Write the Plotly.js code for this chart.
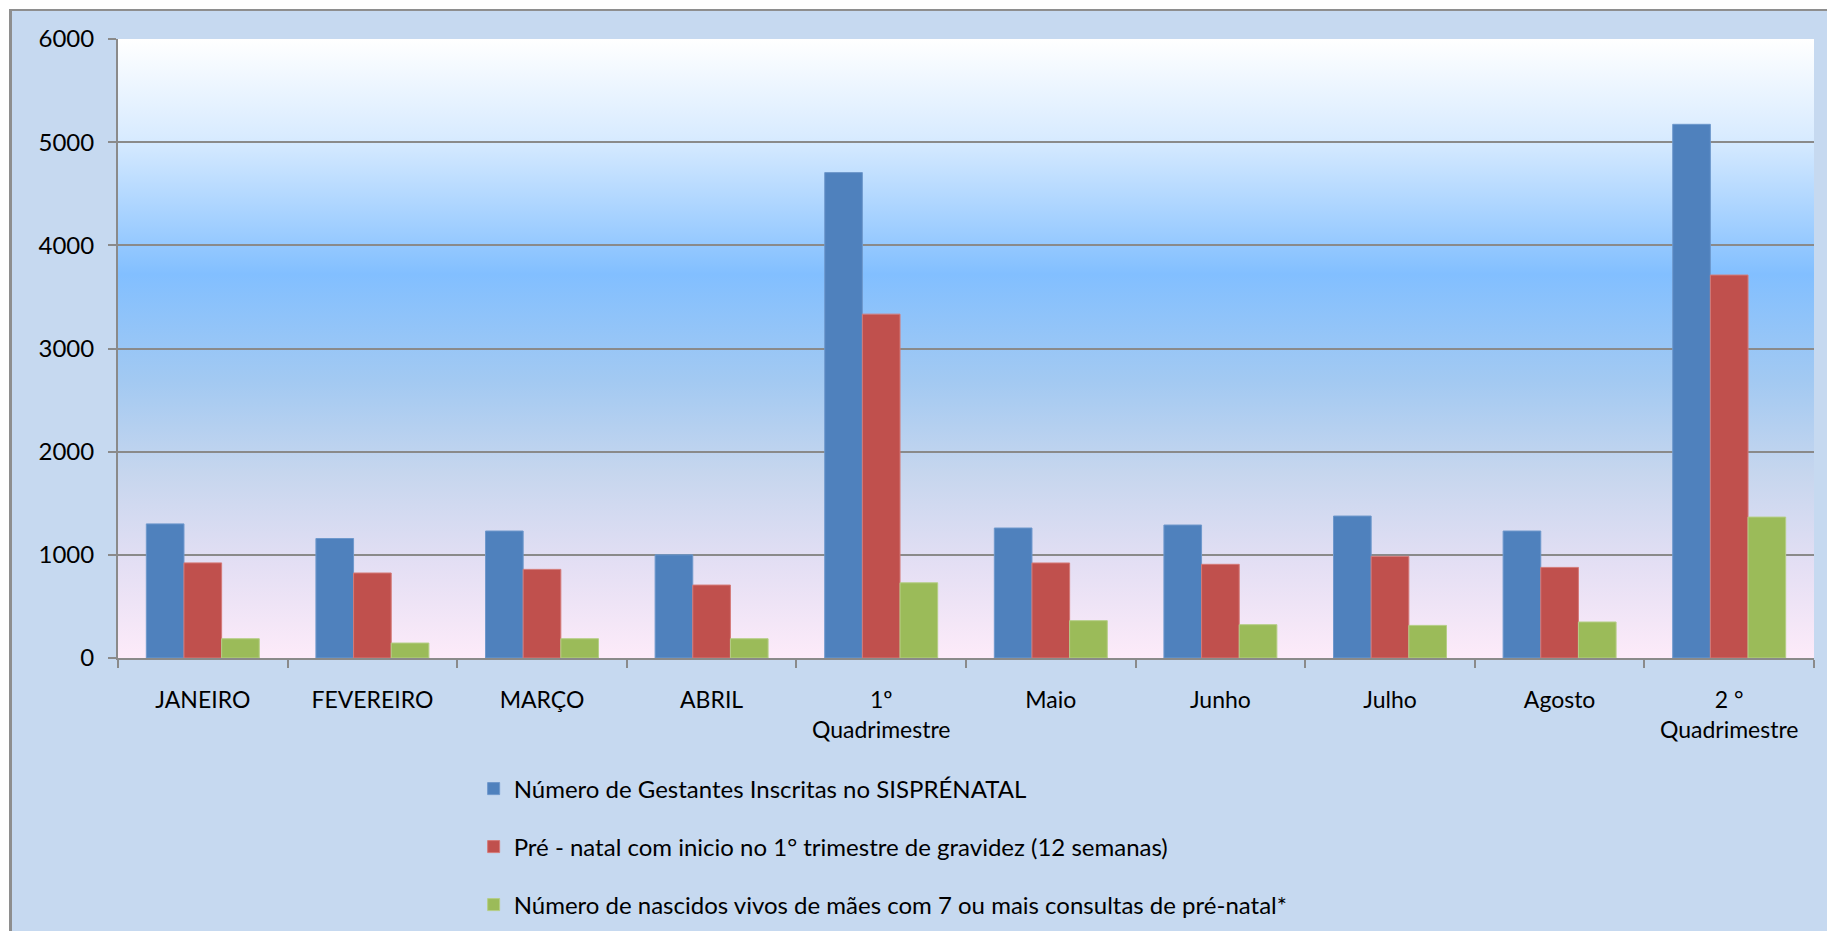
<!DOCTYPE html>
<html>
<head>
<meta charset="utf-8">
<script src="https://cdn.plot.ly/plotly-3.0.1.min.js"></script>
<style>
  html, body { margin: 0; padding: 0; background: #ffffff; width: 1827px; height: 931px; overflow: hidden; }
  #wrap { position: absolute; left: 9px; top: 9px; width: 1818px; height: 922px;
          border-left: 3px solid #8E8E8E; border-top: 2px solid #8E8E8E; background: #C6D9F0; }
  #chart { width: 1815px; height: 920px; }
</style>
</head>
<body>
<div id="wrap"><div id="chart"></div></div>
<script>
// ---- data ----
const categories = ['JANEIRO', 'FEVEREIRO', 'MARÇO', 'ABRIL', '1º<br>Quadrimestre',
                    'Maio', 'Junho', 'Julho', 'Agosto', '2 °<br>Quadrimestre'];
const gestantesInscritas = [1300, 1158, 1231, 1000, 4705, 1260, 1289, 1376, 1231, 5173];
const preNatal1Trimestre = [922, 824, 859, 707, 3333, 921, 908, 985, 878, 3712];
const nascidosVivos7Consultas = [187, 145, 187, 187, 729, 362, 323, 316, 349, 1366];
const seriesNames = [
  'Número de Gestantes Inscritas no SISPRÉNATAL',
  'Pré - natal com inicio no 1° trimestre de gravidez (12 semanas)',
  'Número de nascidos vivos de mães com 7 ou mais consultas de pré-natal*'
];
const yTicks = [0, 1000, 2000, 3000, 4000, 5000, 6000];

// ---- styling ----
const FONT = 'Lato, "Open Sans", sans-serif';
const colors = ['#4F81BD', '#C0504D', '#9BBB59'];
const outline = ['#6E98CC', '#D47A78', '#B5CE86'];

const seriesValues = [gestantesInscritas, preNatal1Trimestre, nascidosVivos7Consultas];
const legendIds = ['legend', 'legend2', 'legend3'];
const traces = seriesValues.map((vals, i) => ({
  type: 'bar',
  x: categories,
  y: vals,
  name: seriesNames[i],
  legend: legendIds[i],
  marker: { color: colors[i], line: { color: outline[i], width: 1 } },
  hoverinfo: 'x+y+name'
}));

const gradSvg = "<svg xmlns='http://www.w3.org/2000/svg' width='100' height='100' preserveAspectRatio='none'>" +
  "<defs><linearGradient id='g' x1='0' y1='0' x2='0' y2='1'>" +
  "<stop offset='0' stop-color='#FFFFFF'/>" +
  "<stop offset='0.16' stop-color='#D8EBFF'/>" +
  "<stop offset='0.38' stop-color='#82BFFF'/>" +
  "<stop offset='0.55' stop-color='#A2C9F2'/>" +
  "<stop offset='0.70' stop-color='#C6D6EE'/>" +
  "<stop offset='0.85' stop-color='#E4DFF4'/>" +
  "<stop offset='1' stop-color='#FDEBF9'/>" +
  "</linearGradient></defs><rect width='100' height='100' fill='url(#g)'/></svg>";

const plotTop = 28, plotBottom = 273;
const plotH = 920 - plotTop - plotBottom;
function legendAt(i, yPix) {
  return {
    x: 0.2097, xanchor: 'left',
    y: -(yPix) / plotH, yanchor: 'middle',
    bgcolor: 'rgba(0,0,0,0)', borderwidth: 0,
    font: { family: FONT, size: 24, color: '#000000' }
  };
}

const layout = {
  width: 1815, height: 920,
  margin: { l: 106, r: 13, t: plotTop, b: plotBottom, autoexpand: false },
  paper_bgcolor: 'rgba(0,0,0,0)',
  plot_bgcolor: 'rgba(0,0,0,0)',
  barmode: 'group',
  bargap: 0.334,
  bargroupgap: 0,
  font: { family: FONT, size: 23, color: '#000000' },
  xaxis: {
    type: 'category',
    tickson: 'boundaries',
    ticks: 'outside', ticklen: 8, tickwidth: 2, tickcolor: '#8A8A8A',
    showline: true, linecolor: '#8A8A8A', linewidth: 2,
    showgrid: false,
    ticklabelstandoff: 20,
    tickfont: { family: FONT, size: 23, color: '#000000' }
  },
  yaxis: {
    range: [0, 6000],
    tickvals: yTicks,
    ticktext: yTicks.map(String),
    ticks: 'outside', ticklen: 8, tickwidth: 2, tickcolor: '#8A8A8A',
    showline: true, linecolor: '#8A8A8A', linewidth: 2,
    showgrid: true, gridcolor: '#8A8A8A', gridwidth: 2,
    zeroline: false,
    ticklabelstandoff: 9,
    tickfont: { family: FONT, size: 24, color: '#000000' }
  },
  images: [{
    source: 'data:image/svg+xml;charset=utf-8,' + encodeURIComponent(gradSvg),
    xref: 'paper', yref: 'paper', x: 0, y: 1, sizex: 1, sizey: 1,
    sizing: 'stretch', xanchor: 'left', yanchor: 'top', layer: 'below'
  }],
  legend: legendAt(0, 131),
  legend2: legendAt(1, 189),
  legend3: legendAt(2, 247),
  showlegend: true
};

Plotly.newPlot('chart', traces, layout, { displayModeBar: false, staticPlot: false });
</script>
</body>
</html>
